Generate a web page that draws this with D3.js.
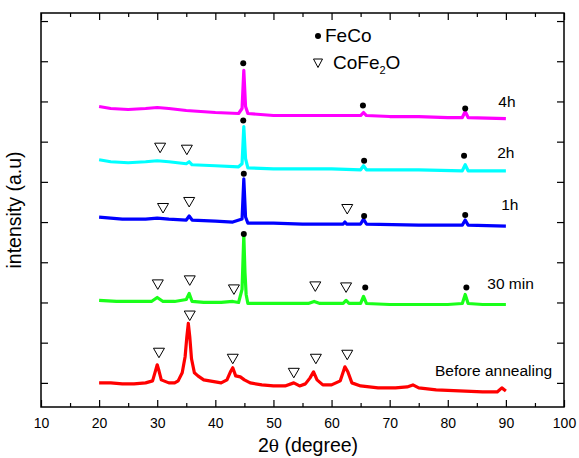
<!DOCTYPE html>
<html lang="en">
<head>
    <meta charset="UTF-8">
    <title>XRD patterns FeCo</title>
    <style>
        body { margin: 0; background: #fff; }
        svg { font-family: "Liberation Sans", Arial, sans-serif; }
        .trace { fill: none; stroke-width: 3.2px; stroke-linejoin: round; }
    </style>
</head>
<body>
    <svg id="chart" width="579" height="458"></svg>
    <script src="https://d3js.org/d3.v7.min.js"></script>
    <script>
        // 2theta (deg) / intensity pairs, each pattern already shifted up
        const beforeAnnealing = [
            [20, 0], [22, 0], [24, -25], [26, -25], [28, 0], [29.2, 50], [29.6, 250], [30, 450], [30.3, 300],
            [30.7, 75], [32, 0], [33, 0], [33.6, 50], [34.3, 250], [34.8, 650], [35.1, 1150], [35.35, 1480],
            [35.6, 1150], [35.9, 600], [36.4, 250], [37, 175], [38, 75], [40, 25], [41, 0], [42, 75],
            [42.6, 275], [43, 375], [43.5, 175], [44.3, 150], [45, 75], [46, 0], [48, -50], [50, -75],
            [52, -75], [53.5, 0], [54.5, -75], [55.5, -25], [56.3, 125], [56.9, 275], [57.5, 75],
            [58.5, -50], [60, -50], [61.5, 50], [62.3, 400], [62.8, 275], [63.5, 0], [65, -75], [68, -125],
            [71, -125], [73, -100], [74, -50], [75, -125], [78, -175], [82, -200], [86, -225], [88.5, -225],
            [89.3, -125], [90, -200]
        ];
        const min30 = [
            [20, 2050], [23, 2025], [26, 2025], [29, 2025], [30, 2125], [31, 2025], [33, 2025], [35, 2075],
            [35.5, 2225], [36, 2025], [38, 2000], [41, 2000], [43, 2025], [44, 2000], [44.6, 2325],
            [44.9, 3675], [45.1, 2750], [45.3, 2200], [45.6, 1975], [48, 1975], [52, 1975], [56, 1975],
            [57, 2025], [58, 1975], [62, 1975], [62.5, 2050], [63, 1975], [65, 1975], [65.5, 2150],
            [66, 1975], [70, 1950], [75, 1950], [80, 1950], [82.5, 1975], [83, 2200], [83.5, 1975],
            [86, 1950], [90, 1950]
        ];
        const hour1 = [
            [20, 4125], [24, 4075], [28, 4075], [30, 4100], [32, 4075], [35, 4050], [35.5, 4150],
            [36, 4050], [40, 4025], [43, 4000], [44.6, 4075], [44.9, 5075], [45.2, 4125], [45.6, 3975],
            [50, 3975], [55, 3950], [62, 3950], [62.3, 4000], [62.6, 3950], [65, 3950], [65.5, 4075],
            [66, 3950], [75, 3925], [82.5, 3925], [83, 4050], [83.5, 3925], [90, 3900]
        ];
        const hour2 = [
            [20, 5550], [22, 5500], [25, 5475], [28, 5500], [30, 5525], [32, 5500], [35, 5450],
            [35.5, 5500], [36, 5425], [40, 5400], [44, 5375], [44.6, 5450], [44.9, 6375], [45.2, 5575],
            [45.6, 5350], [50, 5325], [60, 5325], [65, 5300], [65.5, 5400], [66, 5300], [75, 5300],
            [82.5, 5275], [83, 5425], [83.5, 5275], [90, 5275]
        ];
        const hour4 = [
            [20, 6875], [22, 6825], [25, 6800], [28, 6825], [30, 6850], [32, 6825], [35, 6775],
            [40, 6725], [44, 6700], [44.6, 6825], [44.9, 7775], [45.2, 6875], [45.6, 6700], [50, 6650],
            [55, 6650], [60, 6650], [65, 6650], [65.5, 6725], [66, 6650], [70, 6625], [75, 6625],
            [80, 6600], [82.5, 6600], [83, 6750], [83.5, 6600], [90, 6575]
        ];

        const seriesNames = ["Before annealing", "30 min", "1h", "2h", "4h"];
        const seriesColors = ["#ff0000", "#1aff1a", "#0000ff", "#00ffff", "#ff00ff"];
        const seriesData = [beforeAnnealing, min30, hour1, hour2, hour4];
        // where each label starts: [2theta, intensity]
        const labelAnchors = [[77.8, 175], [86.8, 2325], [89.2, 4300], [88.5, 5600], [88.7, 6850]];

        // phase markers [2theta, intensity]
        const fecoPeaks = [
            [44.8, 7950], [65.4, 6900], [83.0, 6825],
            [44.8, 6525], [65.6, 5525], [82.8, 5650],
            [44.9, 5200], [65.6, 4150], [83.0, 4175],
            [44.9, 3700], [65.8, 2375], [83.2, 2375]
        ];
        const ferritePeaks = [
            [30.5, 5850], [35.1, 5800],
            [31.0, 4350], [35.5, 4500], [62.7, 4325],
            [30.1, 2450], [35.6, 2550], [43.2, 2325], [57.2, 2400], [62.5, 2375],
            [30.3, 750], [35.6, 1675], [43.0, 600], [53.5, 250], [57.3, 600], [62.7, 700]
        ];

        const xTicks = [10, 20, 30, 40, 50, 60, 70, 80, 90, 100];
        const xMinorTicks = [15, 25, 35, 45, 55, 65, 75, 85, 95];
        const yTicks = [0, 1000, 2000, 3000, 4000, 5000, 6000, 7000, 8000, 9000];

        const margin = { top: 13, right: 15, bottom: 51, left: 41 };
        const width = 579 - margin.left - margin.right;
        const height = 458 - margin.top - margin.bottom;

        const svg = d3.select("#chart")
            .append("g")
            .attr("transform", `translate(${margin.left},${margin.top})`);

        const x = d3.scaleLinear().domain([10, 100]).range([0, width]);
        const y = d3.scaleLinear().domain([-600, 9200]).range([height, 0]);

        const line = d3.line()
            .x(d => x(d[0]))
            .y(d => y(d[1]));

        seriesData.forEach((data, i) => {
            svg.append("path")
                .datum(data)
                .attr("class", "trace")
                .attr("stroke", seriesColors[i])
                .attr("d", line);
        });

        // frame
        svg.append("rect")
            .attr("width", width)
            .attr("height", height)
            .attr("fill", "none")
            .attr("stroke", "#000")
            .attr("stroke-width", 1.5);

        function styleAxis(g) {
            g.select(".domain").remove();
            g.selectAll(".tick line").attr("stroke", "#000").attr("stroke-width", 1.2);
        }

        svg.append("g")
            .attr("transform", `translate(0,${height})`)
            .call(d3.axisBottom(x).tickValues(xTicks).tickSize(-7).tickPadding(11).tickFormat(d3.format("d")))
            .call(styleAxis)
            .selectAll("text")
            .attr("font-size", 14)
            .attr("font-family", "Liberation Sans, Arial, sans-serif")
            .attr("fill", "#000");
        svg.append("g")
            .attr("transform", `translate(0,${height})`)
            .call(d3.axisBottom(x).tickValues(xMinorTicks).tickSize(-4).tickFormat(""))
            .call(styleAxis);
        svg.append("g")
            .call(d3.axisTop(x).tickValues(xTicks).tickSize(-7).tickFormat(""))
            .call(styleAxis);
        svg.append("g")
            .call(d3.axisTop(x).tickValues(xMinorTicks).tickSize(-4).tickFormat(""))
            .call(styleAxis);
        svg.append("g")
            .call(d3.axisLeft(y).tickValues(yTicks).tickSize(-7).tickFormat(""))
            .call(styleAxis);
        svg.append("g")
            .attr("transform", `translate(${width},0)`)
            .call(d3.axisRight(y).tickValues(yTicks).tickSize(-7).tickFormat(""))
            .call(styleAxis);

        // axis titles
        const xTitle = svg.append("text")
            .attr("x", 308 - margin.left)
            .attr("y", height + 45)
            .attr("text-anchor", "middle")
            .attr("font-size", 19.5);
        xTitle.append("tspan").text("2");
        xTitle.append("tspan").text("θ").attr("font-family", "DejaVu Serif").attr("font-size", 17);
        xTitle.append("tspan").text(" (degree)");

        svg.append("text")
            .attr("transform", `translate(-20,${height / 2}) rotate(-90)`)
            .attr("text-anchor", "middle")
            .attr("font-size", 19.5)
            .text("intensity (a.u)");

        // series labels
        seriesNames.forEach((name, i) => {
            svg.append("text")
                .attr("x", x(labelAnchors[i][0]))
                .attr("y", y(labelAnchors[i][1]))
                .attr("font-size", 15.5)
                .text(name);
        });

        // markers
        svg.selectAll(".feco")
            .data(fecoPeaks)
            .join("circle")
            .attr("cx", d => x(d[0]))
            .attr("cy", d => y(d[1]))
            .attr("r", 3)
            .attr("fill", "#000");

        const tri = "M-5.5,-4.5 L5.5,-4.5 L0,5 Z";
        svg.selectAll(".ferrite")
            .data(ferritePeaks)
            .join("path")
            .attr("transform", d => `translate(${x(d[0])},${y(d[1])})`)
            .attr("d", tri)
            .attr("fill", "none")
            .attr("stroke", "#000")
            .attr("stroke-width", 1);

        // legend
        const legend = svg.append("g").attr("transform", `translate(${318 - margin.left},0)`);
        legend.append("circle").attr("cx", 0).attr("cy", 36 - margin.top).attr("r", 3).attr("fill", "#000");
        legend.append("text").attr("x", 7).attr("y", 42 - margin.top).attr("font-size", 19).text("FeCo");
        legend.append("path")
            .attr("transform", `translate(0,${63 - margin.top})`)
            .attr("d", "M-4.5,-4 L4.5,-4 L0,4.5 Z")
            .attr("fill", "none").attr("stroke", "#000").attr("stroke-width", 1);
        const lt = legend.append("text").attr("x", 15).attr("y", 69 - margin.top).attr("font-size", 19);
        lt.append("tspan").text("CoFe");
        lt.append("tspan").text("2").attr("font-size", 11).attr("dy", 5);
        lt.append("tspan").text("O").attr("dy", -5);
    </script>
</body>
</html>
